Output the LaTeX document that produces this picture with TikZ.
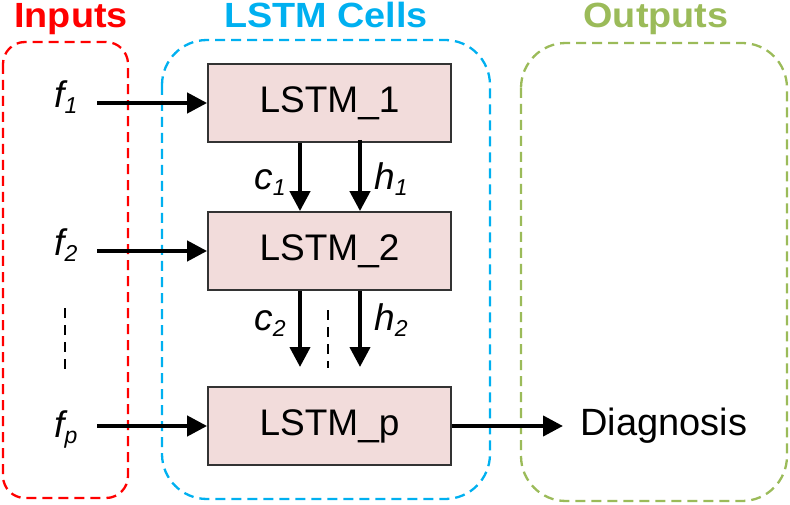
\documentclass[tikz,border=0pt]{standalone}
\usepackage{fontspec}
\setmainfont{Liberation Sans}
\usetikzlibrary{arrows.meta}
\definecolor{cred}{RGB}{255,0,0}
\definecolor{cblue}{RGB}{0,176,240}
\definecolor{cgreen}{RGB}{155,187,89}
\definecolor{cfill}{RGB}{242,220,219}
\newcommand{\lbl}[2]{{\itshape #1\raisebox{-6pt}{\fontsize{23}{23}\selectfont #2}}}
\newcommand{\wide}[1]{\scalebox{1.08}[1]{#1}}
\tikzset{
  big/.style={font=\fontsize{37}{40}\selectfont},
  title/.style={font=\fontsize{35}{40}\selectfont\bfseries, anchor=base, inner sep=0pt},
  cell/.style={draw=black!80, line width=1.8pt, fill=cfill, minimum width=243pt, minimum height=78pt, inner sep=0pt, big},
  grp/.style={line width=2.3pt, dash pattern=on 10pt off 6pt},
  flow/.style={line width=4.2pt, -{Triangle[length=20pt,width=20pt]}},
  dots/.style={line width=1.8pt, dash pattern=on 10pt off 7pt},
  lab/.style={big, anchor=base, inner sep=0pt}
}
\begin{document}
\begin{tikzpicture}[x=1pt,y=-1pt]
\useasboundingbox (0,0) rectangle (790,505);
% group boxes
\draw[grp, cred, rounded corners=22pt] (3,42) rectangle (128,498);
\draw[grp, cblue, rounded corners=45pt] (162,40) rectangle (490,499);
\draw[grp, cgreen, rounded corners=45pt] (521,43) rectangle (787,501);
% titles
\node[title, text=cred] (tin) at (71,28) {\wide{Inputs}};
\node[title, text=cblue] (tcell) at (326,28) {\wide{LSTM Cells}};
\node[title, text=cgreen] (tout) at (656,28) {\wide{Outputs}};
% cells
\node[cell] (L1) at (329.5,103) {LSTM\_1};
\node[cell] (L2) at (329.5,251) {LSTM\_2};
\node[cell] (Lp) at (329.5,426) {LSTM\_p};
% inputs
\node[lab] (f1) at (66,108) {\lbl{f}{1}};
\node[lab] (f2) at (66,255) {\lbl{f}{2}};
\node[lab] (fp) at (66,437) {\lbl{f}{p}};
\coordinate (s1) at (97,103);
\coordinate (s2) at (97,251);
\coordinate (sp) at (97,426);
\draw[flow] (s1) -- (L1.west);
\draw[flow] (s2) -- (L2.west);
\draw[flow] (sp) -- (Lp.west);
% dashed ellipsis lines
\coordinate (da) at (65,308);
\coordinate (db) at (65,371);
\draw[dots] (da) -- (db);
\coordinate (dc) at (328,310);
\coordinate (dd) at (328,368);
\draw[dots] (dc) -- (dd);
% c and h between cells
\draw[flow] ([xshift=-29.5pt]L1.south) -- ([xshift=-29.5pt]L2.north);
\draw[flow] ([xshift=30.5pt,yshift=3pt]L1.south) -- ([xshift=30.5pt]L2.north);
\node[lab] (c1) at (270,190) {\lbl{c}{1}};
\node[lab] (h1) at (391,190) {\lbl{h}{1}};
\coordinate (ce) at (300,367);
\coordinate (he) at (360,367);
\draw[flow] ([xshift=-29.5pt]L2.south) -- (ce);
\draw[flow] ([xshift=30.5pt]L2.south) -- (he);
\node[lab] (c2) at (270,330) {\lbl{c}{2}};
\node[lab] (h2) at (391,330) {\lbl{h}{2}};
% output
\node[font=\fontsize{38}{40}\selectfont, anchor=west, inner xsep=17pt, inner ysep=0pt] (diag) at (563,426) {Diagnosis};
\draw[flow] (Lp.east) -- (diag.west);
\end{tikzpicture}
\end{document}
